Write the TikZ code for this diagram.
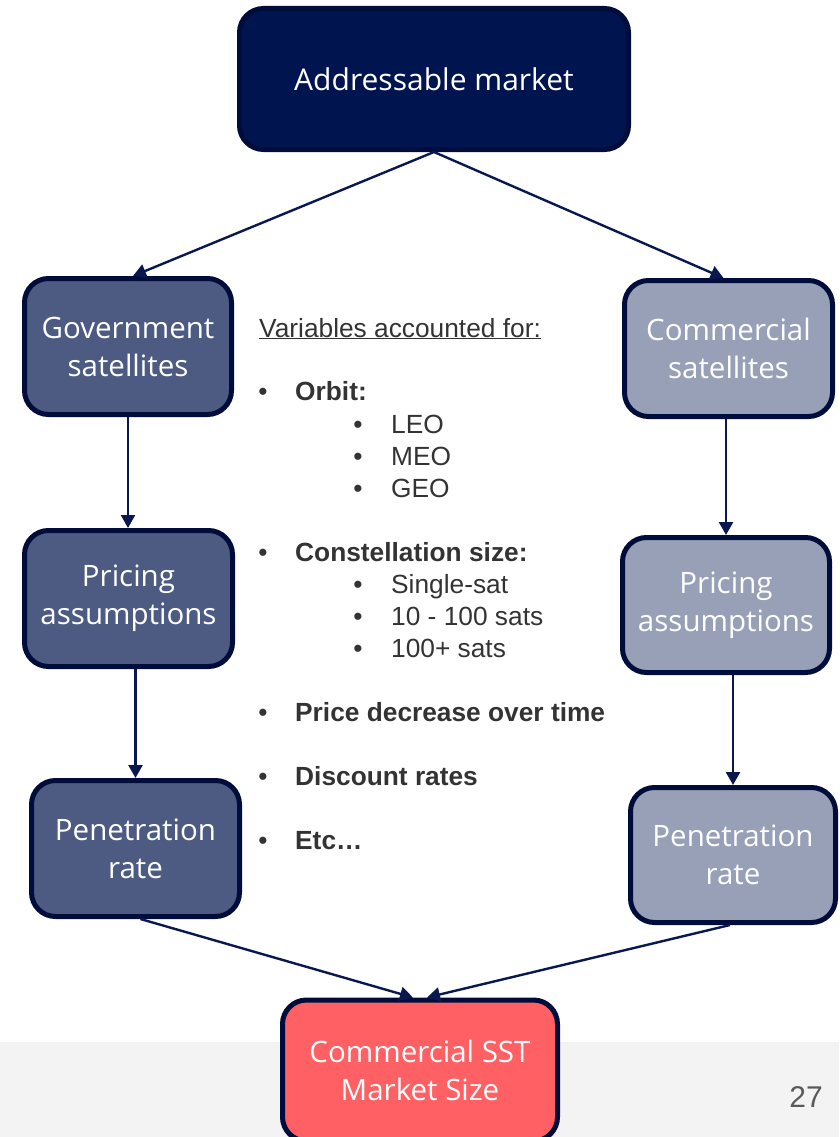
\documentclass[tikz,border=0pt]{standalone}
\usepackage{fontspec}
\setmainfont{Open Sans}
\newfontfamily\arialf{Liberation Sans}
\usetikzlibrary{arrows.meta,calc}
\definecolor{topfill}{HTML}{00154F}
\definecolor{boxline}{HTML}{000C3A}
\definecolor{govfill}{HTML}{4D5A82}
\definecolor{comfill}{HTML}{98A0B8}
\definecolor{endfill}{HTML}{FF6063}
\definecolor{arrowc}{HTML}{0A1850}
\definecolor{listc}{HTML}{333333}
\definecolor{bandc}{HTML}{F3F3F3}
\definecolor{pagec}{HTML}{595959}
\tikzset{
  box/.style={draw=boxline, line width=5pt, rounded corners=24pt, text=white,
    font=\fontsize{29.5}{38}\selectfont, align=center, inner sep=0pt},
  flow/.style={draw=arrowc, line width=2.4pt, -{Triangle[length=13pt,width=14pt]}},
  lst/.style={text=listc, font=\arialf\fontsize{26.3}{30}\selectfont, inner sep=0pt},
  lstb/.style={lst, font=\arialf\bfseries\fontsize{26.3}{30}\selectfont},
}
\begin{document}
\begin{tikzpicture}[x=1pt,y=-1pt]
\useasboundingbox (0,0) rectangle (839,1137);
\clip (0,0) rectangle (839,1137);
\fill[bandc] (0,1042) rectangle (839,1137);
\node[text=pagec, font=\arialf\fontsize{30}{36}\selectfont, inner sep=0pt] (page) at (806,1097) {27};

\node[box, fill=topfill, minimum width=389pt, minimum height=141pt, font=\fontsize{30}{38}\selectfont] (top) at (434,79) {Addressable market};
\node[box, fill=govfill, minimum width=207pt, minimum height=136pt] (gov) at (128,346.5) {Government\\satellites};
\node[box, fill=comfill, minimum width=208pt, minimum height=136pt] (com) at (728.5,348.5) {Commercial\\satellites};
\node[box, fill=govfill, minimum width=208pt, minimum height=136pt] (lprice) at (128.5,598.5) {Pricing\\assumptions};
\node[box, fill=comfill, minimum width=207pt, minimum height=135pt] (rprice) at (726,605) {Pricing\\assumptions};
\node[box, fill=govfill, minimum width=208pt, minimum height=136pt] (lpen) at (135.5,848.5) {Penetration\\rate};
\node[box, fill=comfill, minimum width=205pt, minimum height=135pt] (rpen) at (733,855) {Penetration\\rate};
\node[box, fill=endfill, minimum width=275pt, minimum height=141pt] (final) at (420,1070.5) {Commercial SST\\Market Size};

\draw[flow] (top.south) -- ([xshift=5pt]gov.north);
\draw[flow] (top.south) -- ([xshift=-5pt]com.north);
\draw[flow] (gov.south) -- (lprice.north -| gov.south);
\draw[flow] (lprice.south -| lpen.north) -- (lpen.north);
\draw[flow] (rprice.north |- com.south) -- (rprice.north);
\draw[flow] (rpen.north |- rprice.south) -- (rpen.north);
\draw[flow] ([xshift=5pt]lpen.south) -- ([xshift=-7pt]final.north);
\draw[flow] ([xshift=-3pt]rpen.south) -- ([xshift=7pt]final.north);

\node[lst, anchor=base west] (vars) at (259,337) {\underline{Variables accounted for:}};
\node[lst, anchor=base] (b1) at (263,400) {•};
\node[lstb, anchor=base west] (orbit) at (295,400) {Orbit:};
\node[lst, anchor=base] (s1) at (358,433) {•};
\node[lst, anchor=base west] (leo) at (391,433) {LEO};
\node[lst, anchor=base] (s2) at (358,465) {•};
\node[lst, anchor=base west] (meo) at (391,465) {MEO};
\node[lst, anchor=base] (s3) at (358,497) {•};
\node[lst, anchor=base west] (geo) at (391,497) {GEO};
\node[lst, anchor=base] (b2) at (263,561) {•};
\node[lstb, anchor=base west] (const) at (295,561) {Constellation size:};
\node[lst, anchor=base] (s4) at (358,593) {•};
\node[lst, anchor=base west] (single) at (391,593) {Single-sat};
\node[lst, anchor=base] (s5) at (358,625) {•};
\node[lst, anchor=base west] (ten) at (391,625) {10 - 100 sats};
\node[lst, anchor=base] (s6) at (358,657) {•};
\node[lst, anchor=base west] (hund) at (391,657) {100+ sats};
\node[lst, anchor=base] (b3) at (263,721) {•};
\node[lstb, anchor=base west] (price) at (295,721) {Price decrease over time};
\node[lst, anchor=base] (b4) at (263,785) {•};
\node[lstb, anchor=base west] (disc) at (295,785) {Discount rates};
\node[lst, anchor=base] (b5) at (263,849) {•};
\node[lstb, anchor=base west] (etc) at (295,849) {Etc…};
\end{tikzpicture}
\end{document}
